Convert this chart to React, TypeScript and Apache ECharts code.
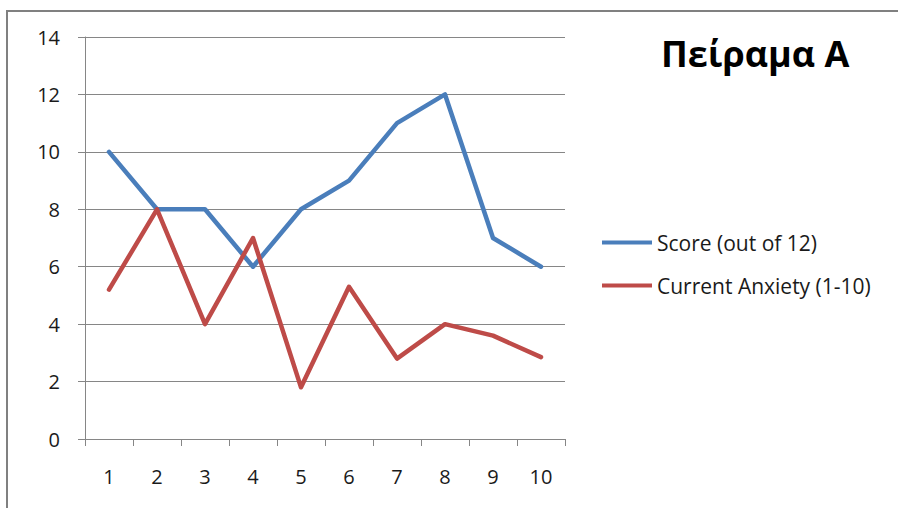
import React, { useEffect, useRef } from "react";
import * as echarts from "echarts";

// Experiment A: score and self-reported anxiety per trial
const trials = ["1", "2", "3", "4", "5", "6", "7", "8", "9", "10"];
const scoreValues = [10, 8, 8, 6, 8, 9, 11, 12, 7, 6];
const anxietyValues = [5.2, 8, 4, 7, 1.8, 5.3, 2.8, 4, 3.6, 2.85];
const seriesNames = ["Score (out of 12)", "Current Anxiety (1-10)"];
const chartTitle = "Πείραμα Α";

const FONT = "'Open Sans', 'Liberation Sans', sans-serif";
const GRID_GRAY = "#868686";
const TEXT = "#1a1a1a";

export default function App() {
  const ref = useRef<HTMLDivElement>(null);

  useEffect(() => {
    if (!ref.current) return;
    const chart = echarts.init(ref.current, undefined, { renderer: "svg" });
    chart.setOption({
      animation: false,
      backgroundColor: "#ffffff",
      textStyle: { fontFamily: FONT },
      title: {
        text: chartTitle,
        left: 656,
        top: 30,
        textStyle: {
          fontFamily: FONT,
          fontSize: 36,
          fontWeight: "bold",
          color: "#000000",
        },
      },
      legend: {
        orient: "vertical",
        left: 597,
        top: 226,
        itemWidth: 50,
        itemHeight: 4,
        itemGap: 20,
        icon: "rect",
        data: seriesNames,
        textStyle: {
          fontFamily: FONT,
          fontSize: 21,
          lineHeight: 23,
          color: TEXT,
        },
      },
      grid: { left: 85, right: 333, top: 37, bottom: 69, containLabel: false },
      xAxis: {
        type: "category",
        data: trials,
        boundaryGap: true,
        axisLine: { show: true, lineStyle: { color: GRID_GRAY, width: 1 } },
        axisTick: {
          show: true,
          alignWithLabel: false,
          length: 7,
          lineStyle: { color: GRID_GRAY },
        },
        axisLabel: {
          margin: 27,
          fontFamily: FONT,
          fontSize: 20,
          color: TEXT,
        },
        splitLine: { show: false },
      },
      yAxis: {
        type: "value",
        min: 0,
        max: 14,
        interval: 2,
        axisLine: { show: true, lineStyle: { color: GRID_GRAY, width: 1 } },
        axisTick: { show: true, length: 7, lineStyle: { color: GRID_GRAY } },
        axisLabel: {
          margin: 25,
          fontFamily: FONT,
          fontSize: 20,
          color: TEXT,
        },
        splitLine: { show: true, lineStyle: { color: GRID_GRAY, width: 1 } },
      },
      series: [
        {
          name: seriesNames[0],
          type: "line",
          data: scoreValues,
          symbol: "none",
          color: "#4a7ebb",
          lineStyle: { width: 4.5, color: "#4a7ebb", cap: "round", join: "round" },
        },
        {
          name: seriesNames[1],
          type: "line",
          data: anxietyValues,
          symbol: "none",
          color: "#be4b48",
          lineStyle: { width: 4.5, color: "#be4b48", cap: "round", join: "round" },
        },
      ],
      graphic: [
        {
          type: "rect",
          silent: true,
          shape: { x: 7, y: 11, width: 1000, height: 1000 },
          style: { fill: "none", stroke: "#808080", lineWidth: 2 },
          z: 100,
        },
      ],
    });
    return () => chart.dispose();
  }, []);

  return (
    <div
      style={{
        position: "fixed",
        left: 0,
        top: 0,
        width: 898,
        height: 508,
        background: "#ffffff",
      }}
    >
      <div ref={ref} style={{ width: 898, height: 508 }} />
    </div>
  );
}
